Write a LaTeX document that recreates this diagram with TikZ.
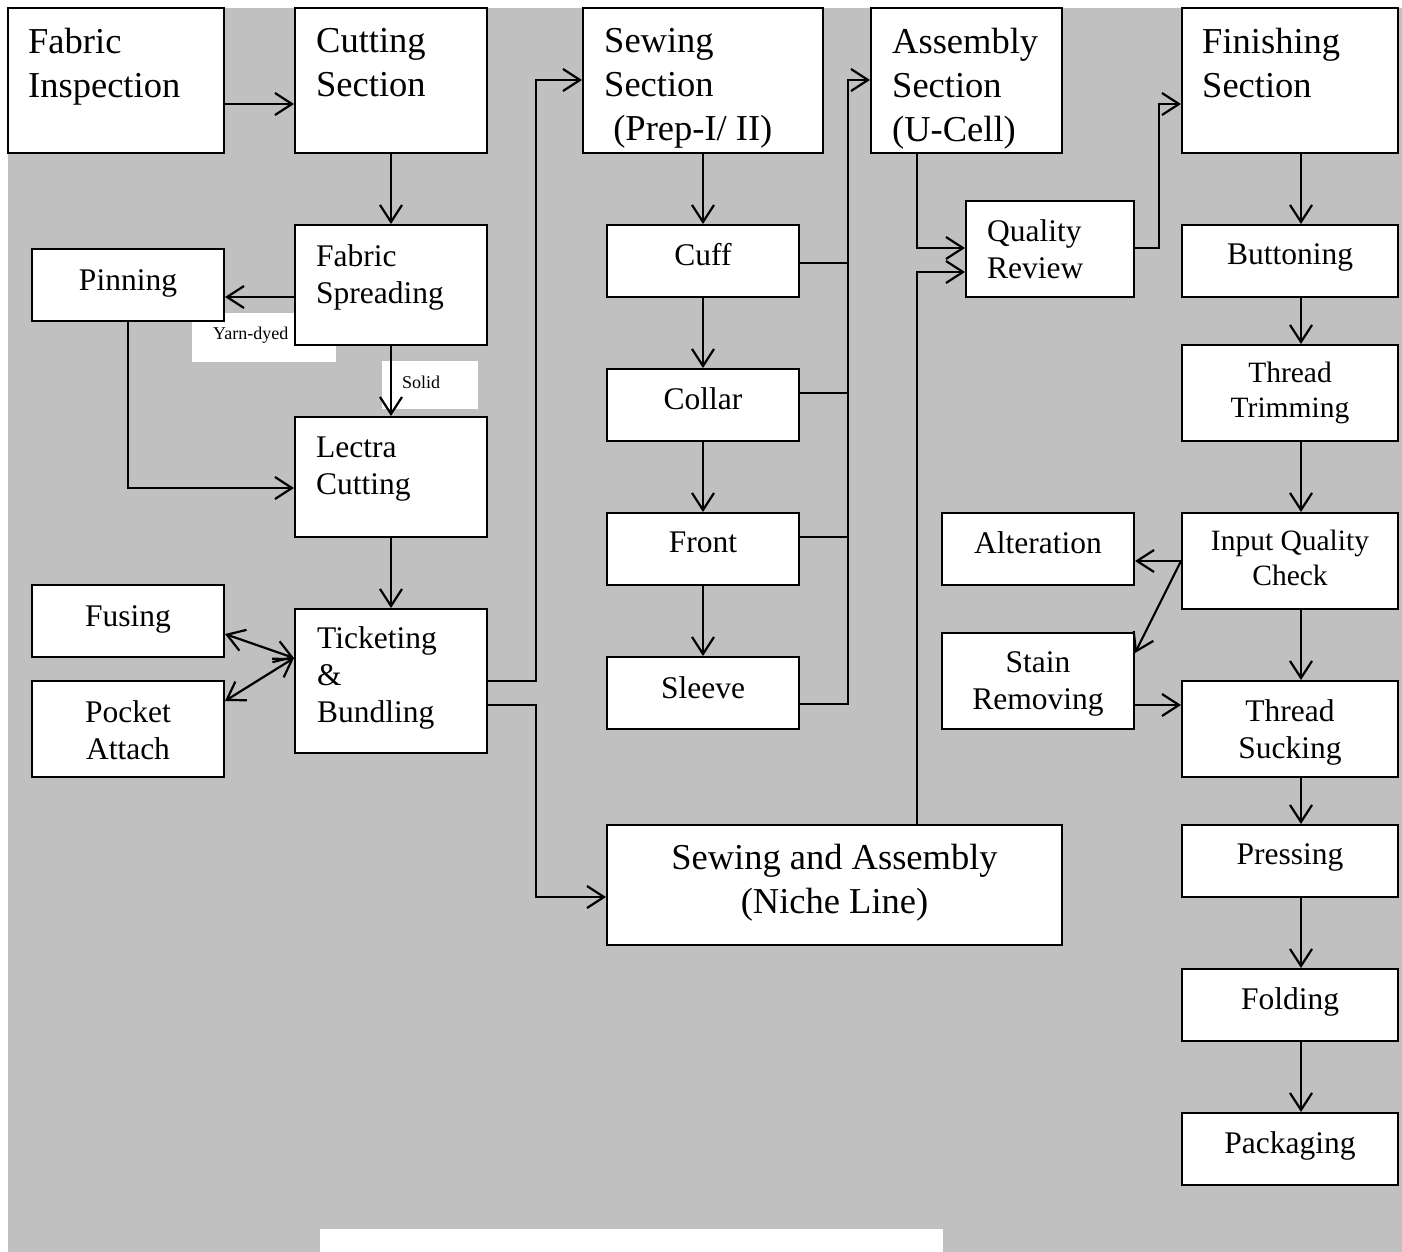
\documentclass[tikz,border=0pt]{standalone}
\usepackage{fontspec}
\setmainfont{Liberation Serif}
\usetikzlibrary{arrows.meta,calc}
\definecolor{panelgray}{RGB}{192,192,192}
\tikzset{
  stagebox/.style={draw=black, fill=white, line width=2pt, inner sep=0pt, rectangle},
  big/.style={font=\fontsize{36.5}{44}\selectfont, inner sep=0pt},
  mid/.style={font=\fontsize{31.5}{37}\selectfont, inner sep=0pt},
  sml/.style={font=\fontsize{29.5}{35}\selectfont, inner sep=0pt},
  tag/.style={font=\fontsize{18}{21}\selectfont, inner sep=0pt},
  patch/.style={fill=white, inner sep=0pt, rectangle},
  link/.style={line width=2.2pt},
  barb/.tip={Straight Barb[length=17pt,width=22pt]},
  flow/.style={line width=2.2pt, -barb},
  both/.style={line width=2.2pt, barb-barb},
}
% \stage{name}{left}{top}{right}{bottom}: an empty process box
\newcommand\stage[5]{\node[stagebox, minimum width={(#4-#2)*1pt}, minimum height={(#5-#3)*1pt}] (#1) at ({(#2+#4)/2},{(#3+#5)/2}) {};}
\begin{document}
\begin{tikzpicture}[x=1pt,y=-1pt]
\useasboundingbox (0,0) rectangle (1402,1252);
\fill[white] (0,0) rectangle (1402,1252);
\fill[panelgray] (8,8) rectangle (1402,1252);
\fill[white] (320,1229) rectangle (943,1252);

% label patches
\node[patch, minimum width=144pt, minimum height=49pt] (yarnpatch) at (264,337.5) {};
\node[patch, minimum width=96pt, minimum height=48pt] (solidpatch) at (430,385) {};
\node[tag, anchor=north west] (yarn) at (213,326.7) {Yarn-dyed};
\node[tag, anchor=north west] (solid) at (402,375.7) {Solid};

% boxes
\stage{fi}{8}{8}{224}{153}
\stage{cut}{295}{8}{487}{153}
\stage{sew}{583}{8}{823}{153}
\stage{asm}{871}{8}{1062}{153}
\stage{fin}{1182}{8}{1398}{153}
\stage{spread}{295}{225}{487}{345}
\stage{pin}{32}{249}{224}{321}
\stage{lectra}{295}{417}{487}{537}
\stage{tick}{295}{609}{487}{753}
\stage{fus}{32}{585}{224}{657}
\stage{pock}{32}{681}{224}{777}
\stage{cuff}{607}{225}{799}{297}
\stage{collar}{607}{369}{799}{441}
\stage{front}{607}{513}{799}{585}
\stage{sleeve}{607}{657}{799}{729}
\stage{niche}{607}{825}{1062}{945}
\stage{qr}{966}{201}{1134}{297}
\stage{but}{1182}{225}{1398}{297}
\stage{trim}{1182}{345}{1398}{441}
\stage{iqc}{1182}{513}{1398}{609}
\stage{alt}{942}{513}{1134}{585}
\stage{stain}{942}{633}{1134}{729}
\stage{suck}{1182}{681}{1398}{777}
\stage{press}{1182}{825}{1398}{897}
\stage{fold}{1182}{969}{1398}{1041}
\stage{pack}{1182}{1113}{1398}{1185}

% box texts, left aligned
\node[big, align=left, anchor=north west] (fi-t) at (28,28.1) {Fabric\\Inspection};
\node[big, align=left, anchor=north west] (cut-t) at (316,28.1) {Cutting\\Section};
\node[big, align=left, anchor=north west] (sew-t) at (604,28.1) {Sewing\\Section\\\hspace*{0.25em}(Prep-I/ II)};
\node[big, align=left, anchor=north west] (asm-t) at (892,28.1) {Assembly\\Section\\(U-Cell)};
\node[big, align=left, anchor=north west] (fin-t) at (1202,28.1) {Finishing\\Section};
\node[mid, align=left, anchor=north west] (spread-t) at (316,244.5) {Fabric\\Spreading};
\node[mid, align=left, anchor=north west] (lectra-t) at (316,436.5) {Lectra\\Cutting};
\node[mid, align=left, anchor=north west] (tick-t) at (317,626.5) {Ticketing\\\&\\Bundling};
\node[mid, align=left, anchor=north west] (qr-t) at (987,219.5) {Quality\\Review};

% box texts, centred
\node[mid, align=center, anchor=north] (pin-t) at (128,269.5) {Pinning};
\node[mid, align=center, anchor=north] (fus-t) at (128,605.5) {Fusing};
\node[mid, align=center, anchor=north] (pock-t) at (128,700.5) {Pocket\\Attach};
\node[mid, align=center, anchor=north] (cuff-t) at (703,243.5) {Cuff};
\node[mid, align=center, anchor=north] (collar-t) at (703,387.5) {Collar};
\node[mid, align=center, anchor=north] (front-t) at (703,531.5) {Front};
\node[mid, align=center, anchor=north] (sleeve-t) at (703,676.5) {Sleeve};
\node[big, align=center, anchor=north] (niche-t) at (834.5,844.1) {Sewing and Assembly\\(Niche Line)};
\node[mid, align=center, anchor=north] (but-t) at (1290,243.5) {Buttoning};
\node[sml, align=center, anchor=north] (trim-t) at (1290,361.9) {Thread\\Trimming};
\node[sml, align=center, anchor=north] (iqc-t) at (1290,529.9) {Input Quality\\Check};
\node[mid, align=center, anchor=north] (alt-t) at (1038,531.5) {Alteration};
\node[mid, align=center, anchor=north] (stain-t) at (1038,651.5) {Stain\\Removing};
\node[mid, align=center, anchor=north] (suck-t) at (1290,699.5) {Thread\\Sucking};
\node[mid, align=center, anchor=north] (press-t) at (1290,843.5) {Pressing};
\node[mid, align=center, anchor=north] (fold-t) at (1290,987.5) {Folding};
\node[mid, align=center, anchor=north] (pack-t) at (1290,1131.5) {Packaging};

% cutting room
\draw[flow] (fi.east |- 0,104) -- (cut.west |- 0,104);
\draw[flow] (cut.south) -- (spread.north);
\draw[flow] (spread.west |- 0,297) -- (pin.east |- 0,297);
\draw[flow] (spread.south) -- (lectra.north);
\draw[flow] (pin.south) |- (lectra.west |- 0,488);
\draw[flow] (lectra.south) -- (tick.north);
\draw[both] (fus.east |- 0,634) -- (tick.west |- 0,658);
\draw[both] (pock.east |- 0,701) -- (tick.west |- 0,658);
\draw[flow] (tick.east |- 0,681) -- ++(48,0) |- (sew.west |- 0,80);
\draw[flow] (tick.east |- 0,705) -- ++(48,0) |- (niche.west |- 0,897);

% sewing preparation
\draw[flow] (sew.south) -- (cuff.north);
\draw[flow] (cuff.south) -- (collar.north);
\draw[flow] (collar.south) -- (front.north);
\draw[flow] (front.south) -- (sleeve.north);
\draw[link] (cuff.east |- 0,263) -- ++(48,0);
\draw[link] (collar.east |- 0,393) -- ++(48,0);
\draw[link] (front.east |- 0,537) -- ++(48,0);
\draw[flow] (sleeve.east |- 0,704) -- ++(48,0) |- (asm.west |- 0,80);

% assembly and review
\draw[flow] ([xshift=47pt]asm.south west) |- (qr.west |- 0,248);
\draw[flow] ([xshift=311pt]niche.north west) |- (qr.west |- 0,272);
\draw[flow] (qr.east |- 0,248) -- ++(24,0) |- (fin.west |- 0,104);

% finishing line
\foreach \a/\b in {fin/but, but/trim, trim/iqc, iqc/suck, suck/press, press/fold, fold/pack}
  \draw[flow] ([xshift=11pt]\a.south) -- ([xshift=11pt]\b.north);
\draw[flow] (iqc.west |- 0,561) -- (alt.east |- 0,561);
\draw[flow] (iqc.west |- 0,561) -- ([yshift=-21pt]stain.north east);
\draw[flow] (stain.east |- 0,705) -- (suck.west |- 0,705);
\end{tikzpicture}
\end{document}
